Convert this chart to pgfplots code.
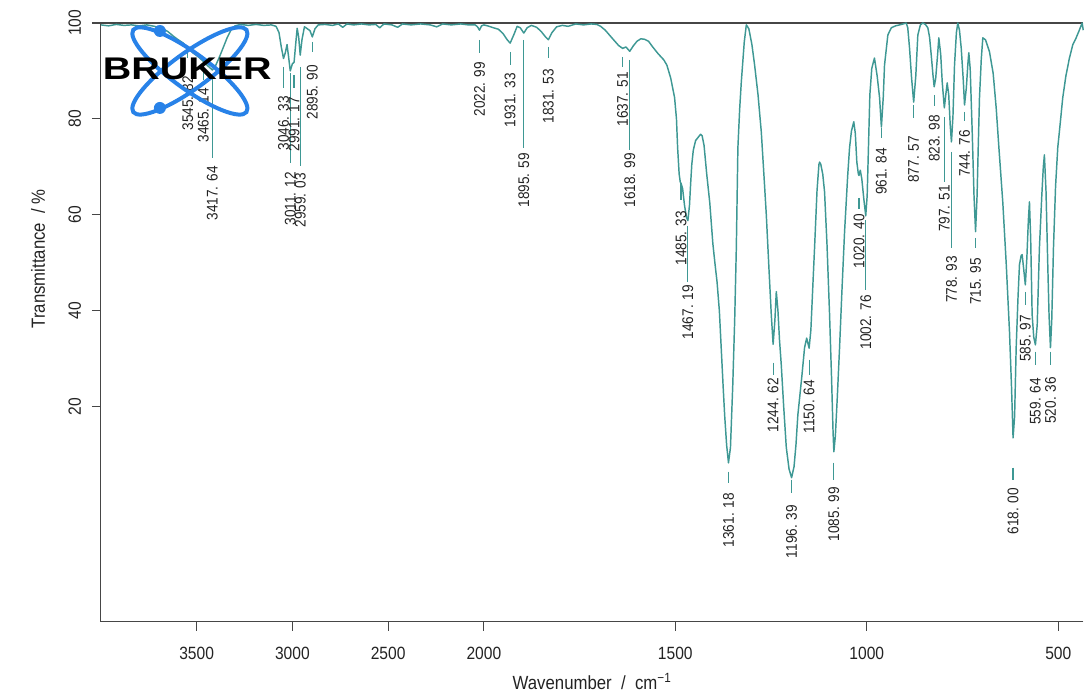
\documentclass[border=0pt]{standalone}
\usepackage{fontspec}
\setmainfont{Liberation Sans}[FakeStretch=0.88]
\newfontfamily\logofont{Liberation Sans}[FakeStretch=1.26]
\usepackage{graphicx}
\usepackage{pgfplots}
\usepackage{pgfplotstable}
\pgfplotsset{compat=1.18}
\definecolor{curve}{RGB}{62,152,148}
\definecolor{axisgray}{RGB}{70,70,70}
\definecolor{txt}{RGB}{35,35,35}
\definecolor{logoblue}{RGB}{40,130,232}

\pgfplotstableread{
wn T
4000 99.6
3960 99.4
3920 99.7
3880 99.5
3840 99.6
3800 99.4
3760 99.6
3720 99.3
3680 98.9
3650 98.2
3620 97.2
3600 96.6
3570 95.8
3545.82 94.8
3520 93.8
3490 92.9
3465.14 92.0
3440 91.0
3417.64 90.2
3400 91.2
3380 93.0
3360 95.0
3340 97.0
3320 98.6
3300 99.4
3270 99.7
3230 99.5
3190 99.7
3150 99.5
3110 99.6
3085 99.3
3070 98.0
3058 95.0
3046.33 92.6
3037 93.8
3028 95.5
3020 93.0
3011.12 90.0
3000 91.5
2991.17 91.8
2983 95.5
2975 98.9
2967 97.0
2959.03 93.3
2950 96.5
2937 99.2
2922 98.8
2908 98.4
2895.9 97.1
2882 98.8
2865 99.6
2830 99.7
2790 99.5
2760 99.8
2737 99.1
2715 99.8
2680 99.6
2640 99.8
2600 99.6
2565 99.7
2544 99.0
2522 99.8
2480 99.6
2450 99.1
2425 99.8
2380 99.6
2330 99.8
2280 99.6
2246 99.2
2215 99.8
2170 99.6
2120 99.8
2080 99.6
2045 99.6
2033 99.2
2022.99 98.5
2012 99.4
2000 99.6
1990 99.4
1975 99.0
1962 98.7
1950 97.8
1940 96.6
1931.33 95.8
1922 97.5
1913 99.3
1905 99.0
1895.59 97.9
1887 99.0
1876 99.5
1862 99.1
1850 98.2
1840 97.2
1831.53 96.5
1822 98.0
1810 99.2
1795 99.5
1780 99.3
1760 99.8
1740 99.6
1720 99.8
1705 99.7
1695 99.3
1683 98.5
1670 97.3
1658 96.2
1648 95.3
1637.51 94.7
1629 95.0
1618.99 94.1
1610 95.2
1600 96.2
1590 96.7
1580 96.6
1570 96.2
1559 95.0
1545 93.6
1530 92.3
1522 91.2
1512 88.5
1502 84.5
1497 80.0
1494 74.0
1490 68.5
1487 66.8
1485.33 66.6
1481 65.5
1476 62.0
1471 59.5
1467.19 58.8
1463 62.0
1460 66.5
1457 70.5
1453 73.5
1447 75.5
1440 76.2
1434 76.8
1430 76.5
1425 74.5
1418 68.5
1410 62.5
1402 54.0
1396 49.5
1391 46.0
1385 40.0
1380 32.0
1375 24.0
1371 18.0
1366 12.0
1361.18 8.3
1356 11.5
1350 24.5
1345 38.0
1340.7 53.1
1336.6 74.0
1332 82.0
1327.7 87.7
1320 96.0
1314.6 99.6
1308 98.8
1300 95.5
1292.9 91.2
1284 85.0
1275.5 77.3
1268 67.5
1262.4 60.0
1255 48.0
1249.4 39.2
1244.62 33.0
1240 38.0
1236.3 44.0
1232 40.0
1228 34.0
1223.3 28.7
1217 20.0
1210.2 11.5
1203 7.0
1196.39 5.2
1190 7.5
1185 12.0
1180 18.3
1170 26.0
1162.5 32.3
1157 34.3
1153 33.0
1150.64 32.2
1146 36.0
1141 45.0
1136.4 53.1
1130 65.0
1125 70.5
1123.3 71.0
1120 70.5
1115 68.5
1110.3 64.8
1104 54.0
1097.2 39.2
1092 26.0
1088 14.5
1085.99 10.6
1082 14.0
1077 22.0
1071.1 32.3
1065 44.0
1058 56.5
1050 68.0
1045 74.0
1040 77.5
1034 79.4
1030 77.0
1026 71.0
1022 68.5
1020.4 68.2
1017 69.3
1013 67.5
1008 63.5
1002.76 59.8
999 64.0
995 76.0
992 85.0
987 90.5
980 92.7
973 89.0
966.6 84.4
961.84 78.3
957 84.5
953.7 91.2
945 97.5
936 99.0
925 99.4
914.6 99.6
905 99.8
897 100.0
893 99.0
888.4 94.8
883 88.5
877.57 83.5
872 89.0
866.7 97.5
860 99.6
853.7 100.0
847 99.7
840.6 99.0
836 97.0
831.7 93.3
827 89.0
823.98 86.7
820 88.5
815 93.5
811.9 96.9
807 93.5
803 87.7
797.51 82.3
793 85.5
790 87.5
786 85.0
782 78.5
778.93 75.2
775 80.5
770.9 91.2
766 98.0
762.3 100.0
758 98.5
753.4 94.8
748 88.0
744.76 82.9
740 86.5
736 91.5
733.6 93.8
730 90.5
724.7 77.3
720 64.0
715.95 56.5
712 64.0
709 74.0
705.7 84.4
701 92.5
697 96.9
690 96.5
679.6 94.0
670 89.5
662.1 82.3
655 74.0
644.9 62.7
636 50.0
627.3 35.6
622 24.0
618 13.5
614 18.0
609.9 32.3
605 43.0
601.3 49.6
597 51.5
594.3 51.7
590 48.5
585.97 45.4
582 51.0
578 59.0
575.2 62.7
572 55.0
568.2 39.2
564 34.5
559.64 32.9
555 37.0
549.2 53.1
543 64.0
539 70.0
536.2 72.5
532 65.0
527.4 49.6
524 39.0
520.36 32.3
517 38.0
512.5 53.1
507 66.0
501.3 74.0
495 79.0
488.3 84.4
480 89.0
470.8 92.7
462 95.5
453.3 96.9
445 98.5
437.6 100.0
434.7 98.5
}\spectrum

\newcommand{\pk}[5]{%
  \draw[curve, line width=0.9pt] (axis cs:#1,#2) -- (axis cs:#1,#3);
  \node[rotate=90, anchor=east, inner sep=0pt, text=txt,
        font=\fontsize{11.6pt}{12pt}\selectfont] at (axis cs:#1,#4) {#5};}

\begin{document}
\begin{tikzpicture}
\begin{scope}[x=0.75pt,y=-0.75pt,shift={(-101,-622)}]
\useasboundingbox (0,0) rectangle (1084,697);
\end{scope}
\begin{axis}[
  scale only axis,
  width=737.25pt, height=449.25pt,
  xmin=434.7, xmax=3000, x dir=reverse,
  ymin=-24.8, ymax=100,
  axis x line*=box, axis y line*=left,
  axis line style={-, axisgray, line width=0.8pt},
  tick pos=left,
  tick align=outside,
  major tick length=6.75pt,
  tick style={axisgray, line width=0.8pt},
  xtick={500,1000,1500,2000,2250,2500,2750},
  xticklabels={500,1000,1500,2000,2500,3000,3500},
  ytick={20,40,60,80,100},
  yticklabels={20,40,60,80,100},
  /pgf/number format/assume math mode=true,
  ticklabel style={font=\fontsize{13.3pt}{14pt}\selectfont, text=txt},
  xticklabel style={yshift=-9pt},
  yticklabel style={rotate=90, anchor=south, inner ysep=8pt},
  xlabel={Wavenumber\ \ /\ \ cm\textsuperscript{\char"2212 1}},
  ylabel={Transmittance\ \ / \%},
  label style={font=\fontsize{14.3pt}{16pt}\selectfont, text=txt},
  xlabel style={at={(axis description cs:0.5,-0.1)}, anchor=center},
  ylabel style={at={(axis description cs:-0.0641,0.606)}, anchor=center},
  clip=false,
]
\addplot[curve, line width=1.1pt, line join=round] table[x expr={min(\thisrow{wn},2000)+max(\thisrow{wn}-2000,0)/2}, y=T] {\spectrum};
\pk{2772.91}{94.38}{92.71}{88.96}{3545. 82}
\pk{2732.57}{91.04}{88.13}{86.46}{3465. 14}
\pk{2708.82}{88.75}{71.88}{70.21}{3417. 64}
\pk{2523.17}{90.83}{86.46}{84.79}{3046. 33}
\pk{2505.56}{89.58}{70.83}{68.96}{3011. 12}
\pk{2495.59}{89.17}{86.46}{84.58}{2991. 17}
\pk{2479.52}{90.83}{70.21}{68.75}{2959. 03}
\pk{2447.95}{96.04}{93.96}{91.25}{2895. 90}
\pk{2011.50}{96.46}{93.75}{91.88}{2022. 99}
\pk{1931.33}{93.96}{91.25}{89.58}{1931. 33}
\pk{1895.59}{96.46}{73.96}{72.92}{1895. 59}
\pk{1831.53}{95.00}{92.71}{90.42}{1831. 53}
\pk{1637.51}{92.92}{90.83}{89.79}{1637. 51}
\pk{1618.99}{92.29}{73.54}{72.92}{1618. 99}
\pk{1485.33}{66.67}{63.13}{60.83}{1485. 33}
\pk{1467.19}{57.71}{46.04}{45.42}{1467. 19}
\pk{1361.18}{6.46}{4.17}{2.08}{1361. 18}
\pk{1244.62}{29.17}{26.67}{26.04}{1244. 62}
\pk{1196.39}{4.79}{2.08}{-0.42}{1196. 39}
\pk{1150.64}{29.79}{26.67}{25.63}{1150. 64}
\pk{1085.99}{8.33}{4.79}{3.33}{1085. 99}
\pk{1020.40}{63.54}{61.25}{60.21}{1020. 40}
\pk{1002.76}{58.96}{44.38}{43.33}{1002. 76}
\pk{961.84}{78.13}{76.04}{73.96}{961. 84}
\pk{877.57}{82.92}{80.21}{76.5}{877. 57}
\pk{823.98}{85.00}{82.71}{80.83}{823. 98}
\pk{797.51}{80.42}{66.88}{66.25}{797. 51}
\pk{778.93}{73.13}{53.13}{51.46}{778. 93}
\pk{744.76}{81.46}{79.58}{77.71}{744. 76}
\pk{715.95}{55.21}{53.13}{51.04}{715. 95}
\pk{618.00}{7.29}{4.79}{3.13}{618. 00}
\pk{585.97}{43.96}{41.25}{39.17}{585. 97}
\pk{559.64}{31.46}{28.75}{26.04}{559. 64}
\pk{520.36}{31.46}{28.75}{26.25}{520. 36}
\end{axis}
\begin{scope}[x=0.75pt,y=-0.75pt,shift={(-101,-622)}]
\draw[logoblue, line width=3pt, rotate around={-36:(190,71)}] (190,71) ellipse [x radius=70, y radius=18];
\draw[logoblue, line width=3pt, rotate around={36:(190,71)}] (190,71) ellipse [x radius=70, y radius=18];
\fill[logoblue] (160,31) circle [radius=6];
\fill[logoblue] (160,108) circle [radius=6];
\node[inner sep=0pt, font=\logofont\bfseries\fontsize{23.5pt}{24pt}\selectfont] at (187.5,69) {BRUKER};
\end{scope}
\end{tikzpicture}
\end{document}
